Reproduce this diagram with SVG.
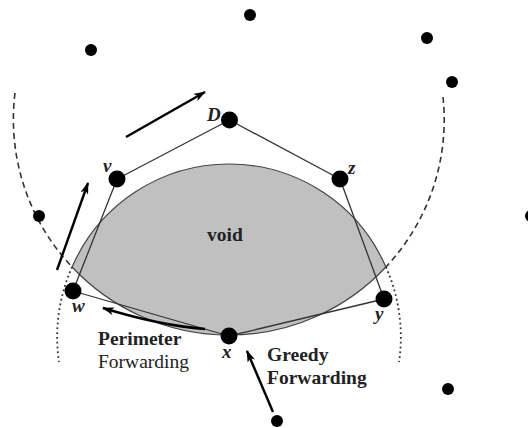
<svg xmlns="http://www.w3.org/2000/svg" width="528" height="428" viewBox="0 0 528 428">
<defs>
<marker id="ah" viewBox="0 0 12 8" refX="11" refY="4" markerWidth="12" markerHeight="8" markerUnits="userSpaceOnUse" orient="auto">
<path d="M0,0 L12,4 L0,8 L3,4 Z" fill="#000"/>
</marker>
<style>
.edge{stroke:#333;stroke-width:1.3;fill:none}
.arrow{stroke:#000;stroke-width:2.4;fill:none;marker-end:url(#ah)}
.dash{stroke:#333;stroke-width:1.6;fill:none;stroke-dasharray:6 4}
.dot{stroke:#333;stroke-width:1.8;fill:none;stroke-dasharray:1.8 3}
.big{fill:#000}
.small{fill:#000}
text{font-family:'Liberation Serif','Times New Roman',serif}
.lbl{font-style:italic;font-weight:bold;font-size:19px;fill:#222}
.txt{font-size:19.5px;fill:#222}
.b{font-weight:bold}
</style>
</defs>
<rect width="528" height="428" fill="#fff"/>
<path id="void" d="M72.1,267 A171 171 0 0 1 385.9,267 A215 215 0 0 1 72.1,267 Z" fill="#c0c0c0" stroke="#444" stroke-width="1.2"/>
<text class="txt b" x="225" y="241" text-anchor="middle" font-family="Liberation Serif, serif">void</text>
<path class="dash" d="M15,93 A215 215 0 0 0 72.1,267"/>
<path class="dash" d="M443,97 A215 215 0 0 1 385.9,267"/>
<path class="dot" d="M72.1,267 A171 171 0 0 0 59,362"/>
<path class="dot" d="M385.9,267 A171 171 0 0 1 399,362"/>
<g id="connectors">
<line class="edge" x1="229.5" y1="120" x2="117" y2="179"/>
<line class="edge" x1="229.5" y1="120" x2="340" y2="179"/>
<line class="edge" x1="117" y1="179" x2="73" y2="291"/>
<line class="edge" x1="73" y1="291" x2="229" y2="336"/>
<line class="edge" x1="229" y1="336" x2="384" y2="299"/>
<line class="edge" x1="384" y1="299" x2="340" y2="179"/>
<line class="arrow" x1="126" y1="137" x2="205" y2="92"/>
<line class="arrow" x1="57" y1="270" x2="88" y2="183"/>
<path class="arrow" d="M205,329 Q160,325.5 103,308"/>
<line class="arrow" x1="273" y1="412" x2="247" y2="351"/>
</g>
<g id="node-D"><circle class="big" cx="229.5" cy="120" r="8.5"/><text class="lbl" x="207" y="121" font-family="Liberation Serif, serif">D</text></g>
<g id="node-v"><circle class="big" cx="117" cy="179" r="8.5"/><text class="lbl" x="103" y="172" font-family="Liberation Serif, serif">v</text></g>
<g id="node-z"><circle class="big" cx="340" cy="179" r="8.5"/><text class="lbl" x="348" y="174" font-family="Liberation Serif, serif">z</text></g>
<g id="node-w"><circle class="big" cx="73" cy="291" r="8.5"/><text class="lbl" x="72" y="312" font-family="Liberation Serif, serif">w</text></g>
<g id="node-x"><circle class="big" cx="229" cy="336" r="8.5"/><text class="lbl" x="222" y="358" font-family="Liberation Serif, serif">x</text></g>
<g id="node-y"><circle class="big" cx="384" cy="299" r="8.5"/><text class="lbl" x="375" y="320" font-family="Liberation Serif, serif">y</text></g>
<g id="n1"><circle class="small" cx="250" cy="15" r="6"/></g>
<g id="n2"><circle class="small" cx="91" cy="50" r="6"/></g>
<g id="n3"><circle class="small" cx="427" cy="38" r="6"/></g>
<g id="n4"><circle class="small" cx="452" cy="82" r="6"/></g>
<g id="n5"><circle class="small" cx="39" cy="216" r="6"/></g>
<g id="n6"><circle class="small" cx="531" cy="216" r="6"/></g>
<g id="n7"><circle class="small" cx="448" cy="389" r="6"/></g>
<g id="n8"><circle class="small" cx="277" cy="421" r="6"/></g>
<text class="txt b" x="98" y="345" font-family="Liberation Serif, serif">Perimeter</text>
<text class="txt" x="98" y="368" font-family="Liberation Serif, serif">Forwarding</text>
<text class="txt b" x="267" y="361" font-family="Liberation Serif, serif">Greedy</text>
<text class="txt b" x="267" y="384" font-family="Liberation Serif, serif">Forwarding</text>
</svg>
